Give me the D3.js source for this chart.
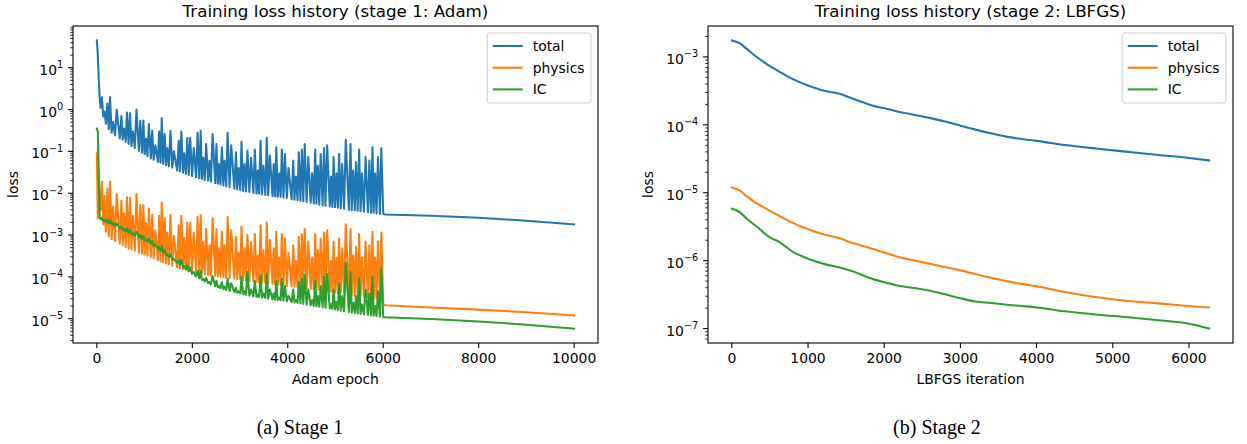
<!DOCTYPE html>
<html>
<head>
<meta charset="utf-8">
<title>Training loss history</title>
<script src="https://d3js.org/d3.v7.min.js"></script>
<style>
  body { margin: 0; background: #fff; }
  text { font-family: "DejaVu Sans", sans-serif; fill: #000; }
</style>
</head>
<body>
<svg id="chart" width="1247" height="444"></svg>
<script>
// ---- stage 1: Adam (trough / spike readings in the noisy part, 12 per row) ----
const adamEpochs = [
  0, 20, 40, 60,
  80, 105, 135, 160, 190, 220, 250, 275, 310, 340, 380, 415,
  480, 515, 540, 570, 605, 630, 665, 695, 725, 755, 795, 830,
  880, 910, 945, 975, 1000, 1030, 1060, 1090, 1130, 1160, 1190, 1225,
  1280, 1305, 1335, 1360, 1390, 1420, 1450, 1475, 1510, 1540, 1580, 1615,
  1680, 1715, 1740, 1770, 1805, 1830, 1865, 1895, 1925, 1955, 1995, 2030,
  2080, 2110, 2145, 2175, 2200, 2230, 2260, 2290, 2330, 2360, 2390, 2425,
  2480, 2505, 2535, 2560, 2590, 2620, 2650, 2675, 2710, 2740, 2780, 2815,
  2880, 2915, 2940, 2970, 3005, 3030, 3065, 3095, 3125, 3155, 3195, 3230,
  3280, 3310, 3345, 3375, 3400, 3430, 3460, 3490, 3530, 3560, 3590, 3625,
  3680, 3705, 3735, 3760, 3790, 3820, 3850, 3875, 3910, 3940, 3980, 4015,
  4080, 4115, 4140, 4170, 4205, 4230, 4265, 4295, 4325, 4355, 4395, 4430,
  4480, 4510, 4545, 4575, 4600, 4630, 4660, 4690, 4730, 4760, 4790, 4825,
  4880, 4905, 4935, 4960, 4990, 5020, 5050, 5075, 5110, 5140, 5180, 5215,
  5280, 5315, 5340, 5370, 5405, 5430, 5465, 5495, 5525, 5555, 5595, 5630,
  5680, 5710, 5745, 5775, 5800, 5830, 5860, 5890, 5930, 5960, 6000, 6040,
  7000, 8000, 9000, 10000
];
const adamTotal = [
  45, 20, 5, 1.8,
  1.1, 1.96, 0.68, 0.9, 0.46, 1.4, 0.34, 2.0, 0.28, 0.5, 0.245, 1.0,
  0.205, 0.7, 0.19, 0.35, 0.17, 0.85, 0.15, 0.82, 0.135, 0.3, 0.12, 1.0,
  0.102, 0.54, 0.093, 0.55, 0.086, 0.2, 0.077, 0.45, 0.068, 0.31, 0.063, 0.14,
  0.056, 0.3, 0.054, 0.63, 0.05, 0.26, 0.047, 0.12, 0.044, 0.31, 0.041, 0.1,
  0.035, 0.18, 0.033, 0.30, 0.031, 0.09, 0.029, 0.21, 0.0275, 0.21, 0.026, 0.12,
  0.024, 0.28, 0.0228, 0.31, 0.022, 0.07, 0.0205, 0.15, 0.02, 0.06, 0.0188, 0.26,
  0.0174, 0.15, 0.0168, 0.05, 0.0162, 0.125, 0.0155, 0.06, 0.0147, 0.28, 0.014, 0.14,
  0.0129, 0.095, 0.0123, 0.04, 0.0118, 0.17, 0.0113, 0.05, 0.011, 0.105, 0.0107, 0.07,
  0.0102, 0.11, 0.0099, 0.035, 0.0097, 0.18, 0.0094, 0.045, 0.0091, 0.21, 0.009, 0.08,
  0.0085, 0.05, 0.0084, 0.125, 0.0082, 0.03, 0.0081, 0.11, 0.0079, 0.086, 0.0077, 0.04,
  0.0072, 0.06, 0.007, 0.025, 0.0068, 0.095, 0.0066, 0.11, 0.0064, 0.15, 0.0062, 0.073,
  0.0059, 0.03, 0.0057, 0.11, 0.0056, 0.045, 0.0053, 0.086, 0.0051, 0.12, 0.005, 0.14,
  0.0048, 0.025, 0.0047, 0.073, 0.0046, 0.03, 0.0045, 0.086, 0.0043, 0.05, 0.0042, 0.19,
  0.004, 0.15, 0.0039, 0.035, 0.0039, 0.055, 0.0038, 0.11, 0.0037, 0.03, 0.0036, 0.073,
  0.0035, 0.06, 0.0034, 0.125, 0.0034, 0.03, 0.0033, 0.073, 0.0032, 0.12, 0.0032, 0.0031,
  0.0029, 0.0026, 0.0022, 0.0018
];
const adamPhysics = [
  0.09, 0.0025, 0.025, 0.006,
  4e-3, 0.019, 1.8e-3, 8.6e-3, 1.2e-3, 0.013, 9.3e-4, 0.019, 8e-4, 4.8e-3, 7.2e-4, 9.5e-3,
  6.3e-4, 6.6e-3, 5.7e-4, 3.3e-3, 5.2e-4, 8e-3, 4.8e-4, 7.8e-3, 4.5e-4, 2.9e-3, 4.2e-4, 9.5e-3,
  3.8e-4, 5.2e-3, 3.6e-4, 5.2e-3, 3.4e-4, 1.9e-3, 3.2e-4, 4.3e-3, 3e-4, 3e-3, 2.8e-4, 1.3e-3,
  2.5e-4, 2.9e-3, 2.35e-4, 6e-3, 2.25e-4, 2.5e-3, 2.1e-4, 1.15e-3, 2e-4, 3e-3, 1.85e-4, 9.5e-4,
  1.7e-4, 1.7e-3, 1.6e-4, 2.9e-3, 1.55e-4, 8.6e-4, 1.48e-4, 2e-3, 1.4e-4, 2e-3, 1.35e-4, 1.15e-3,
  1.3e-4, 2.7e-3, 1.23e-4, 3e-3, 1.2e-4, 6.7e-4, 1.15e-4, 1.4e-3, 1.1e-4, 5.7e-4, 1.07e-4, 2.5e-3,
  1.05e-4, 1.4e-3, 1.02e-4, 4.8e-4, 1e-4, 1.2e-3, 9.8e-5, 5.7e-4, 9.5e-5, 2.7e-3, 9.3e-5, 1.3e-3,
  9e-5, 9e-4, 8.8e-5, 3.8e-4, 8.6e-5, 1.6e-3, 8.4e-5, 4.8e-4, 8.2e-5, 1e-3, 8e-5, 6.7e-4,
  7.8e-5, 1.05e-3, 7.6e-5, 3.3e-4, 7.5e-5, 1.7e-3, 7.3e-5, 4.3e-4, 7.2e-5, 2e-3, 7e-5, 7.6e-4,
  6.8e-5, 4.8e-4, 6.6e-5, 1.2e-3, 6.5e-5, 2.9e-4, 6.4e-5, 1.05e-3, 6.3e-5, 8.2e-4, 6.1e-5, 3.8e-4,
  6e-5, 5.7e-4, 5.8e-5, 2.4e-4, 5.7e-5, 9e-4, 5.6e-5, 1.05e-3, 5.5e-5, 1.4e-3, 5.3e-5, 7e-4,
  5.2e-5, 2.9e-4, 5e-5, 1.05e-3, 4.9e-5, 4.3e-4, 4.8e-5, 8.2e-4, 4.7e-5, 1.15e-3, 4.5e-5, 1.3e-3,
  4.4e-5, 2.4e-4, 4.3e-5, 7e-4, 4.2e-5, 2.9e-4, 4.1e-5, 8.2e-4, 4e-5, 4.8e-4, 3.9e-5, 1.8e-3,
  3.7e-5, 1.4e-3, 3.6e-5, 3.3e-4, 3.55e-5, 5.2e-4, 3.5e-5, 1.05e-3, 3.4e-5, 2.9e-4, 3.3e-5, 7e-4,
  3.2e-5, 5.7e-4, 3.1e-5, 1.2e-3, 3.05e-5, 2.9e-4, 3e-5, 7e-4, 2.9e-5, 1.15e-3, 2.2e-5, 2.1e-5,
  1.85e-5, 1.65e-5, 1.43e-5, 1.2e-5
];
const adamIC = [
  0.35, 0.3, 0.03, 2.6e-3,
  2.4e-3, 2.6e-3, 2.2e-3, 2.3e-3, 2.05e-3, 2.3e-3, 1.93e-3, 2.3e-3, 1.82e-3, 1.95e-3, 1.65e-3, 1.9e-3,
  1.45e-3, 1.6e-3, 1.33e-3, 1.4e-3, 1.23e-3, 1.45e-3, 1.13e-3, 1.35e-3, 1.05e-3, 1.1e-3, 9.6e-4, 1.2e-3,
  8.7e-4, 1.0e-3, 8e-4, 9.5e-4, 7.5e-4, 7.8e-4, 6.8e-4, 8.2e-4, 6.1e-4, 7.2e-4, 5.5e-4, 5.8e-4,
  4.7e-4, 5.3e-4, 4.2e-4, 5.5e-4, 3.8e-4, 4.3e-4, 3.35e-4, 3.4e-4, 2.95e-4, 3.6e-4, 2.6e-4, 2.7e-4,
  2.15e-4, 2.5e-4, 1.92e-4, 2.6e-4, 1.72e-4, 1.8e-4, 1.52e-4, 1.9e-4, 1.35e-4, 1.7e-4, 1.18e-4, 1.3e-4,
  1.02e-4, 1.4e-4, 9.2e-5, 1.4e-4, 8.5e-5, 8.8e-5, 7.8e-5, 9.5e-5, 7.1e-5, 7.5e-5, 6.6e-5, 1.05e-4,
  6e-5, 8e-5, 5.7e-5, 6e-5, 5.4e-5, 7.5e-5, 5.1e-5, 5.8e-5, 4.85e-5, 9e-5, 4.6e-5, 7e-5,
  4.3e-5, 5.5e-5, 4.15e-5, 4.5e-5, 4e-5, 1.0e-4, 3.85e-5, 4.5e-5, 3.7e-5, 1.3e-4, 3.55e-5, 5e-5,
  3.4e-5, 8e-5, 3.3e-5, 3.8e-5, 3.25e-5, 1.1e-4, 3.18e-5, 4e-5, 3.1e-5, 1.2e-4, 3.02e-5, 5e-5,
  2.9e-5, 4e-5, 2.85e-5, 8e-5, 2.8e-5, 3.2e-5, 2.75e-5, 9e-5, 2.7e-5, 6e-5, 2.62e-5, 3.5e-5,
  2.5e-5, 5e-5, 2.45e-5, 2.8e-5, 2.4e-5, 7.5e-5, 2.33e-5, 9e-5, 2.25e-5, 1.1e-4, 2.17e-5, 5e-5,
  2.1e-5, 2.8e-5, 2.02e-5, 8e-5, 1.98e-5, 3.5e-5, 1.93e-5, 6e-5, 1.88e-5, 1.0e-4, 1.82e-5, 1.2e-4,
  1.75e-5, 2.2e-5, 1.71e-5, 5e-5, 1.67e-5, 2.5e-5, 1.6e-5, 7e-5, 1.56e-5, 3.5e-5, 1.5e-5, 2.2e-4,
  1.45e-5, 1.3e-4, 1.41e-5, 2.4e-5, 1.37e-5, 3.5e-5, 1.34e-5, 9e-5, 1.3e-5, 2.2e-5, 1.27e-5, 5e-5,
  1.23e-5, 4e-5, 1.2e-5, 1.0e-4, 1.18e-5, 2e-5, 1.15e-5, 4.5e-5, 1.12e-5, 1.6e-4, 1.1e-5, 1.08e-5,
  9.8e-6, 8.6e-6, 7.2e-6, 5.8e-6
];
const adamXTicks = [0, 2000, 4000, 6000, 8000, 10000];

// ---- stage 2: LBFGS ----
const lbfgsIters = [0, 100, 200, 300, 400, 500, 600, 800, 1000, 1200, 1400, 1600, 1800, 2000,
  2200, 2400, 2600, 2800, 3000, 3200, 3400, 3600, 3800, 4000, 4400, 4800, 5200, 5600, 6000, 6265];
const lbfgsTotal = [1.75e-3, 1.6e-3, 1.3e-3, 1.05e-3, 8.7e-4, 7.3e-4, 6.3e-4, 4.7e-4, 3.8e-4, 3.2e-4,
  2.9e-4, 2.4e-4, 2.0e-4, 1.75e-4, 1.55e-4, 1.4e-4, 1.26e-4, 1.12e-4, 9.7e-5, 8.5e-5,
  7.5e-5, 6.7e-5, 6.2e-5, 5.8e-5, 5.0e-5, 4.45e-5, 4.0e-5, 3.6e-5, 3.25e-5, 3.0e-5];
const lbfgsPhysics = [1.2e-5, 1.08e-5, 8.8e-6, 7.3e-6, 6.3e-6, 5.4e-6, 4.7e-6, 3.6e-6, 2.9e-6, 2.45e-6,
  2.15e-6, 1.8e-6, 1.55e-6, 1.32e-6, 1.12e-6, 1.0e-6, 9.0e-7, 8.0e-7, 7.2e-7, 6.3e-7,
  5.6e-7, 5.0e-7, 4.55e-7, 4.2e-7, 3.4e-7, 2.9e-7, 2.55e-7, 2.35e-7, 2.15e-7, 2.05e-7];
const lbfgsIC = [5.8e-6, 5.2e-6, 4.1e-6, 3.35e-6, 2.7e-6, 2.2e-6, 1.95e-6, 1.35e-6, 1.07e-6, 9.0e-7,
  8.0e-7, 6.9e-7, 5.6e-7, 4.8e-7, 4.25e-7, 3.95e-7, 3.6e-7, 3.2e-7, 2.8e-7, 2.5e-7,
  2.38e-7, 2.25e-7, 2.15e-7, 2.05e-7, 1.78e-7, 1.6e-7, 1.47e-7, 1.33e-7, 1.18e-7, 1.0e-7];
const lbfgsXTicks = [0, 1000, 2000, 3000, 4000, 5000, 6000];

const seriesNames = ["total", "physics", "IC"];
const seriesColors = ["#1f77b4", "#ff7f0e", "#2ca02c"];

const svg = d3.select("#chart");
const fs = 13.9;   // 10pt at this scale

function logDomain(arrs) {
  const all = arrs.flat();
  const lo = Math.log10(d3.min(all)), hi = Math.log10(d3.max(all));
  const pad = (hi - lo) * 0.05;
  return [Math.pow(10, lo - pad), Math.pow(10, hi + pad)];
}

function drawPanel(cfg, idx) {
  const {left, right, top, bottom} = cfg.box;
  const g = svg.append("g");

  const xmin = d3.min(cfg.x), xmax = d3.max(cfg.x), xpad = (xmax - xmin) * 0.05;
  const x = d3.scaleLinear().domain([xmin - xpad, xmax + xpad]).range([left, right]);
  const y = d3.scaleLog().domain(logDomain(cfg.series)).range([bottom, top]);

  g.append("clipPath").attr("id", "clip" + idx)
    .append("rect").attr("x", left).attr("y", top)
    .attr("width", right - left).attr("height", bottom - top);

  // lines
  const line = d3.line().x((d, i) => x(cfg.x[i])).y(d => y(d)).curve(cfg.curve);
  cfg.series.forEach((s, k) => {
    g.append("path").datum(s)
      .attr("clip-path", `url(#clip${idx})`)
      .attr("fill", "none")
      .attr("stroke", seriesColors[k])
      .attr("stroke-width", 2.08)
      .attr("stroke-linejoin", "round")
      .attr("stroke-linecap", "square")
      .attr("d", line);
  });

  // x ticks
  cfg.xTicks.forEach(t => {
    g.append("line").attr("x1", x(t)).attr("x2", x(t))
      .attr("y1", bottom).attr("y2", bottom + 4.9)
      .attr("stroke", "#000").attr("stroke-width", 1.1);
    g.append("text").attr("x", x(t)).attr("y", bottom + 20.3)
      .attr("text-anchor", "middle").style("font-size", fs + "px").text(t);
  });

  // y ticks (log decades + minor)
  const [d0, d1] = y.domain();
  const e0 = Math.floor(Math.log10(d0)), e1 = Math.ceil(Math.log10(d1));
  for (let e = e0; e <= e1; e++) {
    for (let k = 1; k <= 9; k++) {
      const v = k * Math.pow(10, e);
      if (v < d0 || v > d1) continue;
      const major = k === 1;
      g.append("line").attr("x1", left).attr("x2", left - (major ? 4.9 : 2.8))
        .attr("y1", y(v)).attr("y2", y(v))
        .attr("stroke", "#000").attr("stroke-width", major ? 1.1 : 0.83);
      if (major) {
        const lab = g.append("text").attr("x", left - 9.8).attr("y", y(v) + 7)
          .attr("text-anchor", "end").style("font-size", fs + "px");
        lab.append("tspan").text("10");
        lab.append("tspan").attr("dy", -6.5).style("font-size", "9.7px")
          .text(String(e).replace("-", "\u2212"));
      }
    }
  }

  // frame
  g.append("rect").attr("x", left).attr("y", top)
    .attr("width", right - left).attr("height", bottom - top)
    .attr("fill", "none").attr("stroke", "#000").attr("stroke-width", 1.1);

  // labels
  g.append("text").attr("x", (left + right) / 2).attr("y", 17.3)
    .attr("text-anchor", "middle").style("font-size", "16.7px").text(cfg.title);
  g.append("text").attr("x", (left + right) / 2).attr("y", 384)
    .attr("text-anchor", "middle").style("font-size", fs + "px").text(cfg.xLabel);
  g.append("text")
    .attr("transform", `translate(${cfg.yLabelX},${(top + bottom) / 2}) rotate(-90)`)
    .attr("text-anchor", "middle").style("font-size", fs + "px").text("loss");

  // legend
  const leg = g.append("g");
  const frame = leg.append("rect");
  const texts = seriesNames.map((name, k) => {
    const cy = 13 + k * 21.7;
    leg.append("line").attr("x1", 6.6).attr("x2", 34.4).attr("y1", cy).attr("y2", cy)
      .attr("stroke", seriesColors[k]).attr("stroke-width", 2.08).attr("stroke-linecap", "square");
    return leg.append("text").attr("x", 45.5).attr("y", cy + 5)
      .style("font-size", fs + "px").text(name);
  });
  const tw = d3.max(texts, t => t.node().getComputedTextLength());
  const w = 45.5 + tw + 6.5, h = 70;
  frame.attr("width", w).attr("height", h).attr("rx", 2.8)
    .attr("fill", "#fff").attr("fill-opacity", 0.8)
    .attr("stroke", "#d0d0d0").attr("stroke-width", 1.1);
  leg.attr("transform", `translate(${right - 7 - w},${top + 7})`);

  // caption
  svg.append("text").attr("x", cfg.captionX).attr("y", 434)
    .attr("text-anchor", "middle")
    .style("font-family", "'Liberation Serif', 'Times New Roman', serif")
    .style("font-size", "20px").text(cfg.caption);
}

drawPanel({
  box: {left: 73, right: 598, top: 26, bottom: 343},
  x: adamEpochs, series: [adamTotal, adamPhysics, adamIC], xTicks: adamXTicks,
  curve: d3.curveLinear,
  title: "Training loss history (stage 1: Adam)", xLabel: "Adam epoch", yLabelX: 18,
  caption: "(a) Stage 1", captionX: 300
}, 0);

drawPanel({
  box: {left: 708, right: 1233, top: 26, bottom: 343},
  x: lbfgsIters, series: [lbfgsTotal, lbfgsPhysics, lbfgsIC], xTicks: lbfgsXTicks,
  curve: d3.curveMonotoneX,
  title: "Training loss history (stage 2: LBFGS)", xLabel: "LBFGS iteration", yLabelX: 653,
  caption: "(b) Stage 2", captionX: 937
}, 1);
</script>
</body>
</html>
